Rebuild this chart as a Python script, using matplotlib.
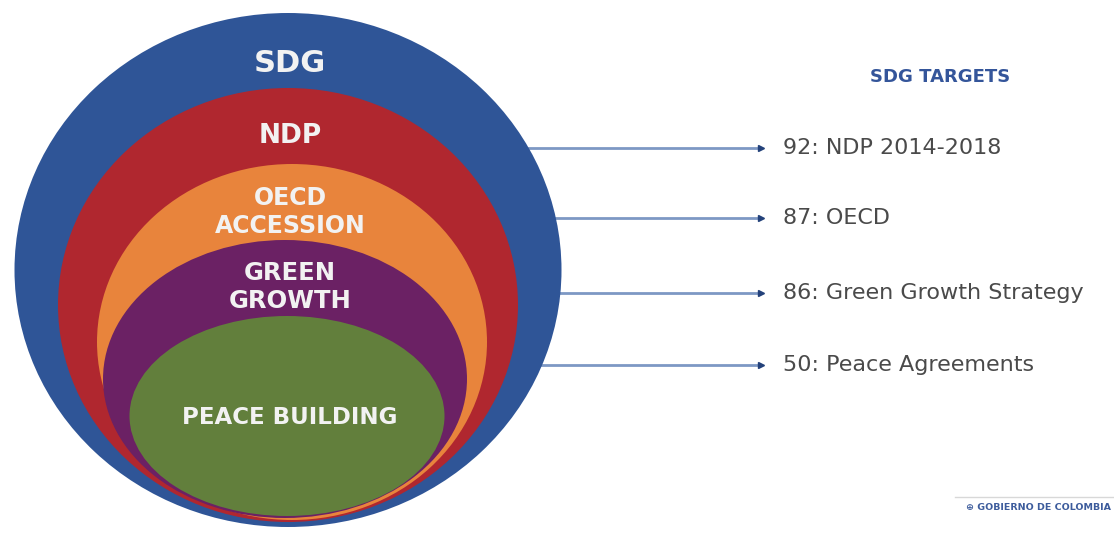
import matplotlib
matplotlib.use("Agg")
import matplotlib.pyplot as plt
from matplotlib.patches import Ellipse

# nested layers, outer to inner
layers = ["SDG", "NDP", "OECD\nACCESSION", "GREEN\nGROWTH", "PEACE BUILDING"]
# SDG target counts per agenda
target_counts = [92, 87, 86, 50]
target_names = ["NDP 2014-2018", "OECD", "Green Growth Strategy", "Peace Agreements"]

colors = ["#2f5597", "#b0272f", "#e8843c", "#6b2164", "#627f3c"]
# ellipse geometry in pixel units (cx, cy, w, h)
shapes = [(288, 270, 547, 514),
          (288, 305, 460, 434),
          (292, 342, 390, 356),
          (285, 379, 364, 278),
          (287, 416, 315, 200)]
label_y = [63, 136, 212, 287, 417]
label_size = [22, 19, 17, 17.5, 16.5]

fig = plt.figure(figsize=(11.14, 5.37), dpi=100)
ax = fig.add_axes([0, 0, 1, 1])
ax.set_xlim(0, 1114)
ax.set_ylim(537, 0)
ax.axis("off")

for (cx, cy, w, h), c in zip(shapes, colors):
    ax.add_patch(Ellipse((cx, cy), w, h, facecolor=c, edgecolor="none", zorder=2))

for name, y, fs in zip(layers, label_y, label_size):
    ax.text(290, y, name, ha="center", va="center", fontsize=fs, fontweight="bold",
            color="#f2f2f2", linespacing=1.25, zorder=3)

# arrows to the targets
arrow_y = [148, 218, 293, 365]
for n, name, y in zip(target_counts, target_names, arrow_y):
    ax.plot([480, 758], [y, y], color="#7d98c4", lw=2, zorder=1)
    ax.plot(761, y, marker=">", ms=5, color="#23417a", zorder=1)
    ax.text(783, y, f"{n}: {name}", ha="left", va="center", fontsize=16,
            color="#4a4a4a")

ax.text(940, 77, "SDG TARGETS", ha="center", va="center", fontsize=13,
        fontweight="bold", color="#34559a")

# footer logo
ax.plot([955, 1114], [497, 497], color="#d8d8d8", lw=1)
ax.text(966, 507, "\u2295 GOBIERNO DE COLOMBIA", ha="left", va="center",
        fontsize=6.8, fontweight="bold", color="#3d5c9c", clip_on=True)

fig.savefig("out.png", dpi=100)
